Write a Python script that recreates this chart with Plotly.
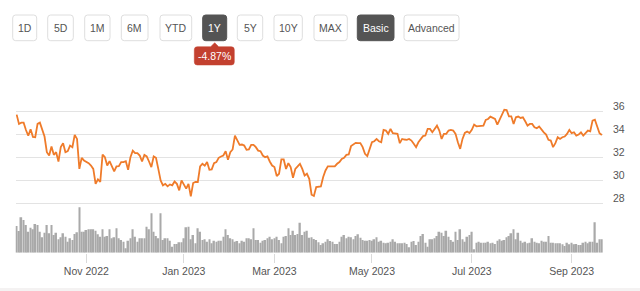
import pandas as pd
import numpy as np
import plotly.graph_objects as go

# ---------------- data ----------------
price = [
    35.74, 34.93, 35.04, 35.04, 34.4, 33.9, 34.46, 33.8, 33.77, 34.93,
    35.04, 34.5, 33.83, 32.46, 32.17, 32.96, 32.23, 32.46, 31.65, 32.9,
    33.25, 32.46, 32.55, 33.04, 32.9, 33.97, 33.62, 31.0, 31.97, 31.74,
    31.65, 31.5, 31.3, 31.0, 29.7, 30.09, 29.86, 32.26, 32.03, 31.3,
    31.68, 31.16, 30.78, 31.22, 31.25, 31.6, 31.6, 31.68, 30.93, 32.03,
    32.6, 32.38, 32.38, 32.17, 31.65, 32.23, 32.09, 31.65, 31.16, 32.09,
    31.97, 31.0, 30.0, 29.57,
    29.7, 29.48, 29.65, 29.57, 29.9, 29.7, 29.13, 30.0, 29.57, 29.28,
    29.7, 28.6, 29.77, 29.86, 29.86, 31.22, 31.45, 31.28, 31.6, 30.93,
    30.96, 31.5, 31.6, 31.97, 32.09, 32.17, 32.55, 31.8, 32.46, 32.7,
    33.91, 33.48, 33.1, 33.13, 33.04, 32.67, 32.7, 33.1, 33.1, 32.9,
    32.6, 32.55, 32.17, 32.03, 32.09, 31.65, 31.3, 31.16, 30.38, 30.58,
    31.83, 31.83, 31.0, 31.5, 31.16, 30.23, 31.0, 31.22, 31.45, 31.0,
    30.43, 30.58, 30.14, 28.75, 28.64, 29.42,
    29.48, 29.48, 30.29, 30.87, 31.22, 31.22, 31.22, 31.22, 31.45, 31.6,
    31.88, 31.97, 32.23, 32.26, 32.99, 33.1, 33.28, 33.25, 33.25, 32.9,
    32.32, 32.12, 32.75, 33.33, 33.42, 33.62, 33.42, 33.33, 34.41, 34.35,
    34.06, 34.49, 34.12, 34.06, 34.06, 33.25, 33.62, 33.57, 33.54, 33.62,
    33.48, 33.19, 32.9, 33.33, 33.57, 33.86, 33.91, 34.49, 34.49, 34.2,
    34.49, 34.78, 34.35, 33.62, 34.06, 34.06, 34.35, 34.41, 34.35, 34.06,
    33.33, 32.75, 33.62, 34.14,
    34.26, 34.14, 34.41, 34.87, 34.72, 34.75, 34.75, 34.78, 35.28, 35.36,
    35.57, 35.45, 35.36, 34.87, 35.28, 35.74, 36.17, 36.14, 35.59, 35.59,
    34.93, 35.51, 35.57, 35.45, 35.51, 35.16, 34.78, 34.93, 34.93, 34.64,
    34.55, 34.7, 34.43, 34.2, 34.0, 33.54, 33.48, 32.9, 33.25, 33.77,
    33.62, 33.77, 33.83, 34.06, 34.41, 34.12, 34.2, 33.91, 34.0, 34.2,
    33.91, 34.12, 34.35, 34.29, 35.22, 35.3, 34.78, 34.12, 33.97,
]

volume = [
    8.0, 6.5, 10.6, 9.8, 8.3, 6.3, 7.5, 7.0, 8.6, 8.3,
    6.3, 4.6, 6.0, 8.3, 5.8, 8.3, 5.3, 6.0, 4.0, 4.6,
    5.8, 4.8, 3.3, 4.3, 3.8, 5.6, 6.1, 13.6, 6.3, 6.3,
    6.8, 7.0, 7.0, 7.0, 6.6, 5.5, 4.8, 7.0, 4.8, 5.0,
    7.0, 4.3, 4.6, 7.3, 4.3, 3.8, 3.3, 1.3, 3.6, 4.3,
    7.0, 4.8, 3.3, 4.3, 4.3, 4.3, 7.8, 7.0, 11.8, 6.3,
    5.0, 4.3, 11.8, 3.8, 4.3, 4.3, 3.6, 1.8, 2.6, 2.6,
    3.1, 3.1, 4.3, 7.6, 7.8, 4.0, 5.3, 2.8, 7.3, 6.3,
    3.8, 4.0, 3.3, 4.0, 2.8, 3.6, 3.3, 3.6, 3.6, 4.8,
    7.0, 5.3, 4.3, 4.0, 3.3, 3.5, 2.8, 3.6, 3.3, 4.3,
    4.3, 4.0, 7.3, 3.8, 3.8, 3.0, 3.6, 3.8, 4.3, 4.8,
    4.0, 4.3, 4.8, 3.8, 2.8, 4.8, 5.0, 7.3, 5.3, 6.6,
    5.3, 5.6, 9.0, 5.3, 6.3, 6.6, 4.5,
    4.6, 4.1, 3.8, 3.1, 2.3, 2.8, 3.3, 4.0, 3.5, 3.3,
    2.6, 2.6, 3.3, 4.8, 5.3, 4.3, 4.8, 4.6, 4.0, 5.0,
    5.5, 4.5, 3.8, 3.6, 3.6, 3.8, 3.6, 4.0, 4.6, 3.3,
    3.6, 3.0, 2.8, 3.0, 3.3, 4.0, 3.3, 2.8, 2.8, 2.8,
    3.0, 2.6, 1.6, 3.3, 3.5, 2.3, 3.3, 5.0, 5.6, 3.0,
    1.8, 4.0, 4.0, 4.3, 5.0, 6.3, 6.0, 5.0, 6.6, 4.8,
    3.8, 3.3, 6.3, 3.8, 7.0, 4.0, 3.3, 4.8, 5.3, 6.3,
    1.0, 3.0, 3.3, 3.0, 3.0, 3.0, 3.3, 2.8, 3.0, 2.6,
    3.6, 4.0, 3.6, 3.8, 4.6, 5.0, 5.8, 7.0, 4.0, 6.0,
    3.6, 3.0, 3.3, 2.8, 3.0, 4.3, 3.3, 3.0, 2.8, 3.6,
    3.3, 3.3, 5.0, 3.0, 3.0, 2.8, 2.8, 2.8, 2.5, 2.0,
    3.0, 2.5, 3.0, 2.5, 2.6, 2.3, 2.3, 3.0, 3.3, 2.8,
    3.3, 3.3, 9.1, 3.0, 4.0, 4.0,
]

start_date = "2022-09-20"
market_holidays = ["2022-11-24", "2022-12-26", "2023-01-02", "2023-01-16",
                   "2023-02-20", "2023-04-07", "2023-05-29", "2023-06-19",
                   "2023-07-04", "2023-09-04"]
tick_months = ["2022-11-01", "2023-01-01", "2023-03-01", "2023-05-01",
               "2023-07-01", "2023-09-01"]
tick_labels = ["Nov 2022", "Jan 2023", "Mar 2023", "May 2023", "Jul 2023", "Sep 2023"]
price_ticks = [28, 30, 32, 34, 36]

buttons = ["1D", "5D", "1M", "6M", "YTD", "1Y", "5Y", "10Y", "MAX", "Basic", "Advanced"]
active_buttons = ["1Y", "Basic"]
change_text = "-4.87%"

# ---------------- derived ----------------
n = min(len(price), len(volume))
price = price[:n]
volume = volume[:n]
dates = pd.bdate_range(start=start_date, periods=n, freq="C", holidays=market_holidays)
idx = np.arange(n)
tick_idx = [int(np.searchsorted(dates.values, np.datetime64(m))) for m in tick_months]

W, H = 640, 291


def px(x):
    return x / W


def py(y):
    return 1 - y / H


def rrect(x0, y0, x1, y1, r, notch=None):
    p = lambda x, y: f"{px(x):.5f},{py(y):.5f}"
    s = f"M {p(x0 + r, y0)} "
    if notch is not None:
        cx, w, h = notch
        s += f"L {p(cx - w, y0)} L {p(cx, y0 - h)} L {p(cx + w, y0)} "
    s += f"L {p(x1 - r, y0)} Q {p(x1, y0)} {p(x1, y0 + r)} "
    s += f"L {p(x1, y1 - r)} Q {p(x1, y1)} {p(x1 - r, y1)} "
    s += f"L {p(x0 + r, y1)} Q {p(x0, y1)} {p(x0, y1 - r)} "
    s += f"L {p(x0, y0 + r)} Q {p(x0, y0)} {p(x0 + r, y0)} Z"
    return s


FONT = "Liberation Sans, Arial, Helvetica, sans-serif"

fig = go.Figure()
fig.add_trace(go.Bar(x=idx, y=volume, xaxis="x", yaxis="y2",
                     marker=dict(color="#a9a9a9", line=dict(width=0)),
                     hoverinfo="skip"))
fig.add_trace(go.Scatter(x=idx, y=price, mode="lines", xaxis="x", yaxis="y",
                         line=dict(color="#ef7b2a", width=1.8), hoverinfo="skip"))

shapes = []
annotations = []
btn_x = [(12.7, 36.7), (47.7, 73.3), (84.7, 110), (121.3, 148), (160, 191.7),
         (202.7, 226.7), (237.3, 262.7), (274, 302.3), (314, 347.3), (357.3, 394),
         (404, 459)]
for label, (x0, x1) in zip(buttons, btn_x):
    active = label in active_buttons
    shapes.append(dict(type="path", xref="paper", yref="paper",
                       path=rrect(x0, 15, x1, 40.7, 3),
                       fillcolor="#545454" if active else "#ffffff",
                       line=dict(color="#545454" if active else "#dedede", width=1)))
    annotations.append(dict(x=px((x0 + x1) / 2), y=py(28), xref="paper", yref="paper",
                            text=label, showarrow=False, xanchor="center", yanchor="middle",
                            font=dict(family=FONT, size=10.5,
                                      color="#ffffff" if active else "#555555")))
shapes.append(dict(type="path", xref="paper", yref="paper",
                   path=rrect(194.3, 46.7, 234.3, 65, 3, notch=(214.7, 4, 4)),
                   fillcolor="#c3402f", line=dict(color="#c3402f", width=0.5)))
annotations.append(dict(x=px(214.3), y=py(56), xref="paper", yref="paper",
                        text=change_text, showarrow=False, xanchor="center", yanchor="middle",
                        font=dict(family=FONT, size=10.5, color="#ffffff")))
shapes.append(dict(type="rect", xref="paper", yref="paper", x0=0, x1=1,
                   y0=0, y1=py(288), fillcolor="#f4f2f2", line=dict(width=0), layer="below"))

fig.update_layout(
    width=W, height=H, margin=dict(l=0, r=0, t=0, b=0),
    paper_bgcolor="#ffffff", plot_bgcolor="rgba(0,0,0,0)",
    showlegend=False, bargap=0.28,
    shapes=shapes, annotations=annotations,
    xaxis=dict(domain=[px(15.5), px(603)], range=[-0.5, n - 0.5], anchor="y2",
               showgrid=False, zeroline=False, showline=False,
               tickmode="array", tickvals=tick_idx, ticktext=tick_labels,
               ticks="outside", ticklen=9, tickwidth=1, tickcolor="#dadada",
               tickfont=dict(family=FONT, size=10.5, color="#555555")),
    yaxis=dict(domain=[py(205.6), py(100.2)], range=[27.8, 37], anchor="x",
               side="right", showgrid=True, gridcolor="#e3e3e3", gridwidth=1,
               zeroline=False, showline=False, tickmode="array", tickvals=price_ticks,
               ticks="", ticklabelstandoff=9, ticklabelshift=-5,
               tickfont=dict(family=FONT, size=10.5, color="#555555")),
    yaxis2=dict(domain=[py(252.7), py(202.7)], range=[0, 15], anchor="x",
                visible=False, fixedrange=True),
)

fig.write_html("out.html")
